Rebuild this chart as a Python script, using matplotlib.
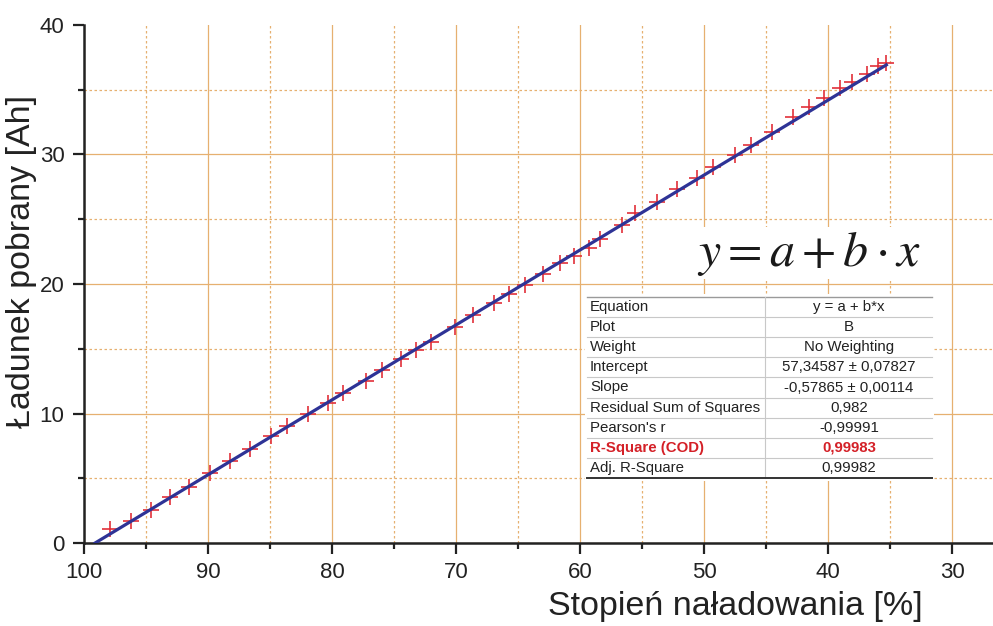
import numpy as np
import matplotlib.pyplot as plt
from matplotlib.patches import Rectangle
from matplotlib.lines import Line2D

# measured points: state of charge [%] and charge taken [Ah]
soc = [97.9, 96.2, 94.6, 93.1, 91.5, 89.8, 88.2, 86.6, 84.9, 83.6,
	81.9, 80.3, 79.1, 77.3, 76.0, 74.4, 73.2, 72.0, 70.1, 68.6,
	66.9, 65.7, 64.4, 63.0, 61.6, 60.5, 59.3, 58.4, 56.6, 55.6,
	53.8, 52.2, 50.6, 49.3, 47.5, 46.2, 44.5, 42.8, 41.5, 40.3,
	39.0, 38.1, 36.9, 36.0, 35.3]
charge = [1.06, 1.72, 2.55, 3.53, 4.30, 5.43, 6.36, 7.23, 8.26, 9.06,
	9.93, 10.79, 11.56, 12.53, 13.36, 14.18, 14.90, 15.55, 16.70, 17.60,
	18.50, 19.20, 19.90, 20.80, 21.60, 22.16, 22.75, 23.45, 24.56, 25.46,
	26.35, 27.30, 28.20, 29.00, 29.96, 30.70, 31.76, 32.87, 33.70, 34.40,
	35.10, 35.60, 36.20, 36.80, 37.10]

# linear fit from the report table
fit_a = 57.34587
fit_b = -0.57865

table_names = ["Equation", "Plot", "Weight", "Intercept", "Slope",
	"Residual Sum of Squares", "Pearson's r", "R-Square (COD)", "Adj. R-Square"]
table_values = ["y = a + b*x", "B", "No Weighting", "57,34587 \u00b1 0,07827",
	"-0,57865 \u00b1 0,00114", "0,982", "-0,99991", "0,99983", "0,99982"]
highlight_row = "R-Square (COD)"

plt.rcParams['font.family'] = ['Liberation Sans', 'DejaVu Sans']
plt.rcParams['mathtext.fontset'] = 'stix'

W, H = 993, 626
fig = plt.figure(figsize=(W / 100, H / 100), dpi=100)
ax = fig.add_axes([84 / W, 83 / H, 909 / W, 518 / H])

grid_color = '#E6B070'
ax.set_xlim(100, 26.7)
ax.set_ylim(0, 40)
ax.set_xticks(np.arange(100, 29, -10))
ax.set_xticks(np.arange(95, 34, -10), minor=True)
ax.set_yticks(np.arange(0, 41, 10))
ax.set_yticks(np.arange(5, 40, 10), minor=True)
ax.grid(which='major', color=grid_color, lw=0.9)
ax.grid(which='minor', color=grid_color, lw=0.9, linestyle=(0, (2, 2)))
ax.get_ygridlines()[-1].set_visible(False)
ax.set_axisbelow(True)

# data and fit
ax.plot(soc, charge, '+', color='#E2303A', ms=12, mew=1.2, zorder=3)
xs = np.array([fit_a / -fit_b, min(soc)])
ax.plot(xs, fit_a + fit_b * xs, color='#2E3396', lw=2.3, zorder=4)

for side in ['top', 'right']:
	ax.spines[side].set_visible(False)
for side in ['left', 'bottom']:
	ax.spines[side].set_linewidth(1.8)
	ax.spines[side].set_color('#222222')

ax.tick_params(which='major', length=8, width=1.6, labelsize=16, colors='#222222', pad=6)
ax.tick_params(which='minor', length=4, width=1.6, colors='#222222')

ax.set_xlabel('Stopie\u0144 na\u0142adowania [%]', fontsize=24.5, color='#222222')
ax.xaxis.set_label_coords(0.716, -0.092)
ax.set_ylabel('\u0141adunek pobrany [Ah]', fontsize=24.5, color='#222222')
ax.yaxis.set_label_coords(-0.052, 0.544)

def fx(x):
	return x / W

def fy(y):
	return 1 - y / H

# equation
fig.text(fx(697), fy(253), r'$y = a + b\cdot x$', fontsize=36, va='center', ha='left',
	color='#1a1a1a', bbox=dict(facecolor='white', edgecolor='none', pad=1))

# fit report table
t_left, t_right, t_top, t_bottom = 587, 932, 297, 478
col_split = 765
row_h = (t_bottom - t_top) / len(table_names)
fig.add_artist(Rectangle((fx(t_left - 2), fy(t_bottom + 3)), (t_right - t_left + 4) / W,
	(t_bottom - t_top + 6) / H, transform=fig.transFigure, facecolor='white', edgecolor='none'))
fig.add_artist(Line2D([fx(t_left), fx(t_right)], [fy(t_top), fy(t_top)],
	transform=fig.transFigure, color='#9a9a9a', lw=1.0))
for i in range(1, len(table_names)):
	yy = t_top + i * row_h
	fig.add_artist(Line2D([fx(t_left), fx(t_right)], [fy(yy), fy(yy)],
		transform=fig.transFigure, color='#c8c8c8', lw=0.8))
fig.add_artist(Line2D([fx(col_split), fx(col_split)], [fy(t_top), fy(t_bottom)],
	transform=fig.transFigure, color='#c8c8c8', lw=0.8))
fig.add_artist(Line2D([fx(t_left), fx(t_right)], [fy(t_bottom), fy(t_bottom)],
	transform=fig.transFigure, color='#333333', lw=1.4))

for i, (name, value) in enumerate(zip(table_names, table_values)):
	yc = t_top + (i + 0.5) * row_h
	if name == highlight_row:
		kw = dict(color='#D42027', fontweight='bold')
	else:
		kw = dict(color='#222222')
	fig.text(fx(590), fy(yc), name, fontsize=10.8, va='center', ha='left', **kw)
	fig.text(fx(849), fy(yc), value, fontsize=10.8, va='center', ha='center', **kw)

fig.savefig('out.png', dpi=100)
